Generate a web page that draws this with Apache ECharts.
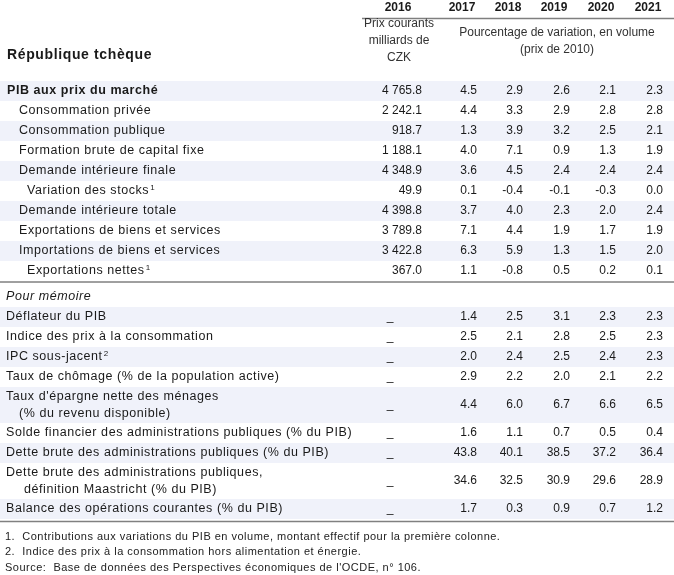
<!DOCTYPE html>
<html><head><meta charset="utf-8">
<script src="https://cdn.jsdelivr.net/npm/echarts@6/dist/echarts.min.js"></script>
<style>html,body{margin:0;padding:0;background:#fff}#c{width:674px;height:575px}</style>
</head><body><div id="c"></div>
<script>
// ---------------- DATA ----------------
const country = 'République tchèque';
const years = ['2016', '2017', '2018', '2019', '2020', '2021'];
const unit2016 = ['Prix courants', 'milliards de', 'CZK'];
const unitVolume = ['Pourcentage de variation, en volume', '(prix de 2010)'];

const mainLabels = ['PIB aux prix du marché', 'Consommation privée', 'Consommation publique',
  'Formation brute de capital fixe', 'Demande intérieure finale', 'Variation des stocks',
  'Demande intérieure totale', 'Exportations de biens et services', 'Importations de biens et services',
  'Exportations nettes'];
const mainNotes = ['', '', '', '', '', '1', '', '', '', '1'];
const main2016 = [4765.8, 2242.1, 918.7, 1188.1, 4348.9, 49.9, 4398.8, 3789.8, 3422.8, 367.0];
const main2017 = [4.5, 4.4, 1.3, 4.0, 3.6, 0.1, 3.7, 7.1, 6.3, 1.1];
const main2018 = [2.9, 3.3, 3.9, 7.1, 4.5, -0.4, 4.0, 4.4, 5.9, -0.8];
const main2019 = [2.6, 2.9, 3.2, 0.9, 2.4, -0.1, 2.3, 1.9, 1.3, 0.5];
const main2020 = [2.1, 2.8, 2.5, 1.3, 2.4, -0.3, 2.0, 1.7, 1.5, 0.2];
const main2021 = [2.3, 2.8, 2.1, 1.9, 2.4, 0.0, 2.4, 1.9, 2.0, 0.1];

const memoTitle = 'Pour mémoire';
const memoLabels = [['Déflateur du PIB'], ['Indice des prix à la consommation'], ['IPC sous-jacent'],
  ['Taux de chômage (% de la population active)'],
  ["Taux d'épargne nette des ménages", '(% du revenu disponible)'],
  ['Solde financier des administrations publiques (% du PIB)'],
  ['Dette brute des administrations publiques (% du PIB)'],
  ['Dette brute des administrations publiques,', 'définition Maastricht (% du PIB)'],
  ['Balance des opérations courantes (% du PIB)']];
const memoNotes = ['', '', '2', '', '', '', '', '', ''];
const memo2016 = ['_', '_', '_', '_', '_', '_', '_', '_', '_'];
const memo2017 = [1.4, 2.5, 2.0, 2.9, 4.4, 1.6, 43.8, 34.6, 1.7];
const memo2018 = [2.5, 2.1, 2.4, 2.2, 6.0, 1.1, 40.1, 32.5, 0.3];
const memo2019 = [3.1, 2.8, 2.5, 2.0, 6.7, 0.7, 38.5, 30.9, 0.9];
const memo2020 = [2.3, 2.5, 2.4, 2.1, 6.6, 0.5, 37.2, 29.6, 0.7];
const memo2021 = [2.3, 2.3, 2.3, 2.2, 6.5, 0.4, 36.4, 28.9, 1.2];

const footnotes = [
  '1.  Contributions aux variations du PIB en volume, montant effectif pour la première colonne.',
  '2.  Indice des prix à la consommation hors alimentation et énergie.',
  "Source:  Base de données des Perspectives économiques de l'OCDE, n° 106."
];

// ---------------- LAYOUT / STYLE ----------------
// Labels use a family list containing "Arial" so that they get the reference's wider letter spacing.
const FONT_L = '"Liberation Sans", Arial, sans-serif';
const FONT_N = '"Liberation Sans", sans-serif';
const SPACING = 0.045; // em, letter spacing for label texts
const TXT = '#1a1a1a';
const SHADE = '#f0f2fa';
const W = 674, H = 575;
const LAYOUT = {
  colRight: [422, 477, 523, 570, 616, 663],
  yearCenter: [398, 462, 508, 554, 601, 648],
  dashX: 390,
  yearY: 8,
  headRuleY: 18.5, headRuleX0: 362,
  unit2016X: 399, unit2016Y: [24, 41, 58],
  unitVolX: 557, unitVolY: [33, 50],
  titleX: 7, titleY: 55,
  mainTop: 81, rowH: 20, twoLineH: 36, lineGap: 17,
  mainIndent: [7, 19, 19, 19, 19, 27, 19, 19, 19, 27],
  sepY: 282,
  memoTitleTop: 287,
  memoIndent: [6, 19],
  memoIndent2: [6, 24],
  bottomRuleY: 521.5,
  footX: 5, footY: [537, 552, 568],
  labelSize: 12.5, numSize: 12, titleSize: 14, footSize: 11
};

(function patchSpacing() {
  const P = CanvasRenderingContext2D.prototype;
  const fill = P.fillText, measure = P.measureText;
  function ls(ctx) {
    const f = ctx.font || '';
    if (f.indexOf('Arial') >= 0) {
      const m = /(\d+(?:\.\d+)?)px/.exec(f);
      const s = m ? parseFloat(m[1]) : 12;
      ctx.letterSpacing = (s * SPACING).toFixed(2) + 'px';
    } else {
      ctx.letterSpacing = '0px';
    }
  }
  P.fillText = function (t, x, y, w) { ls(this); return w === undefined ? fill.call(this, t, x, y) : fill.call(this, t, x, y, w); };
  P.measureText = function (t) { ls(this); return measure.call(this, t); };
})();

function fmt(v) {
  if (typeof v === 'string') return v;
  const s = v.toFixed(1);
  const [i, d] = s.split('.');
  return i.replace(/\B(?=(\d{3})+(?!\d))/g, ' ') + '.' + d;
}

// ---------------- BUILD MARKS ----------------
const rects = [], rules = [], cells = [];
function addText(x, y, text, o) {
  cells.push(Object.assign({ x, y, text, align: 'left', size: LAYOUT.numSize, weight: 'normal', style: 'normal', rich: false, family: FONT_N }, o || {}));
}
const lab = (o) => Object.assign({ size: LAYOUT.labelSize, family: FONT_L }, o || {});

// header
years.forEach((yr, i) => addText(LAYOUT.yearCenter[i], LAYOUT.yearY, yr, { align: 'center', weight: 'bold' }));
rules.push([LAYOUT.headRuleX0, LAYOUT.headRuleY, W, LAYOUT.headRuleY, '#7f7f7f', 1.5]);
unit2016.forEach((t, i) => addText(LAYOUT.unit2016X, LAYOUT.unit2016Y[i], t, { align: 'center', color: '#333' }));
unitVolume.forEach((t, i) => addText(LAYOUT.unitVolX, LAYOUT.unitVolY[i], t, { align: 'center', color: '#333' }));
addText(LAYOUT.titleX, LAYOUT.titleY, country, { size: LAYOUT.titleSize, weight: 'bold', family: FONT_L });

// main block
const mainCols = [main2016, main2017, main2018, main2019, main2020, main2021];
let rowTop = LAYOUT.mainTop;
mainLabels.forEach((label, r) => {
  const cy = rowTop + LAYOUT.rowH / 2;
  if (r % 2 === 0) rects.push([0, rowTop, W, rowTop + LAYOUT.rowH]);
  const t = mainNotes[r] ? label + '{sup|' + mainNotes[r] + '}' : label;
  addText(LAYOUT.mainIndent[r], cy, t, lab({ weight: r === 0 ? 'bold' : 'normal', size: r === 0 ? 12.5 : LAYOUT.labelSize, rich: !!mainNotes[r] }));
  mainCols.forEach((col, c) => addText(LAYOUT.colRight[c], cy, fmt(col[r]), { align: 'right' }));
  rowTop += LAYOUT.rowH;
});
rules.push([0, LAYOUT.sepY, W, LAYOUT.sepY, '#404040', 1]);

// memo block
rowTop = LAYOUT.memoTitleTop;
addText(LAYOUT.memoIndent[0], rowTop + LAYOUT.rowH / 2, memoTitle, lab({ style: 'italic' }));
rowTop += LAYOUT.rowH;
const memoCols = [memo2016, memo2017, memo2018, memo2019, memo2020, memo2021];
memoLabels.forEach((lines, r) => {
  const h = lines.length > 1 ? LAYOUT.twoLineH : LAYOUT.rowH;
  const cy = rowTop + h / 2;
  if (r % 2 === 0) rects.push([0, rowTop, W, rowTop + h]);
  const ind = r === 7 ? LAYOUT.memoIndent2 : LAYOUT.memoIndent;
  lines.forEach((ln, k) => {
    const ly = lines.length > 1 ? cy + (k - 0.5) * LAYOUT.lineGap : cy;
    const t = (memoNotes[r] && k === 0) ? ln + '{sup|' + memoNotes[r] + '}' : ln;
    addText(ind[k], ly, t, lab({ rich: !!(memoNotes[r] && k === 0) }));
  });
  memoCols.forEach((col, c) => {
    if (c === 0) addText(LAYOUT.dashX, cy, col[r], { align: 'center' });
    else addText(LAYOUT.colRight[c], cy, fmt(col[r]), { align: 'right' });
  });
  rowTop += h;
});
rules.push([0, LAYOUT.bottomRuleY, W, LAYOUT.bottomRuleY, '#808080', 1.5]);

footnotes.forEach((f, i) => addText(LAYOUT.footX, LAYOUT.footY[i], f, { size: LAYOUT.footSize, color: '#222', family: FONT_L }));

// ---------------- CHART ----------------
const chart = echarts.init(document.getElementById('c'), null, { renderer: 'canvas' });
chart.setOption({
  animation: false,
  backgroundColor: '#fff',
  grid: { left: 0, right: 0, top: 0, bottom: 0 },
  xAxis: { type: 'value', min: 0, max: W, show: false },
  yAxis: { type: 'value', min: 0, max: H, inverse: true, show: false },
  series: [
    {
      type: 'custom', silent: true, clip: false,
      data: rects,
      renderItem(p, api) {
        const a = api.coord([api.value(0), api.value(1)]);
        const b = api.coord([api.value(2), api.value(3)]);
        return { type: 'rect', shape: { x: a[0], y: a[1], width: b[0] - a[0], height: b[1] - a[1] }, style: { fill: SHADE } };
      }
    },
    {
      type: 'custom', silent: true, clip: false,
      data: rules.map(r => r.slice(0, 4)),
      renderItem(p, api) {
        const r = rules[p.dataIndex];
        const a = api.coord([api.value(0), api.value(1)]);
        const b = api.coord([api.value(2), api.value(3)]);
        return { type: 'line', shape: { x1: a[0], y1: a[1], x2: b[0], y2: b[1] }, style: { stroke: r[4], lineWidth: r[5] } };
      }
    },
    {
      type: 'custom', silent: true, clip: false,
      data: cells.map(c => [c.x, c.y]),
      renderItem(p, api) {
        const c = cells[p.dataIndex];
        const pt = api.coord([api.value(0), api.value(1)]);
        const st = {
          text: c.text, textAlign: c.align, textVerticalAlign: 'middle',
          fontSize: c.size, fontWeight: c.weight, fontStyle: c.style, fontFamily: c.family,
          fill: c.color || TXT
        };
        if (c.rich) st.rich = { sup: { fontSize: 8, fontFamily: c.family, fill: c.color || TXT, padding: [0, 0, 7, 1] } };
        return { type: 'text', x: pt[0], y: pt[1], style: st };
      }
    }
  ]
});
</script>
</body></html>
